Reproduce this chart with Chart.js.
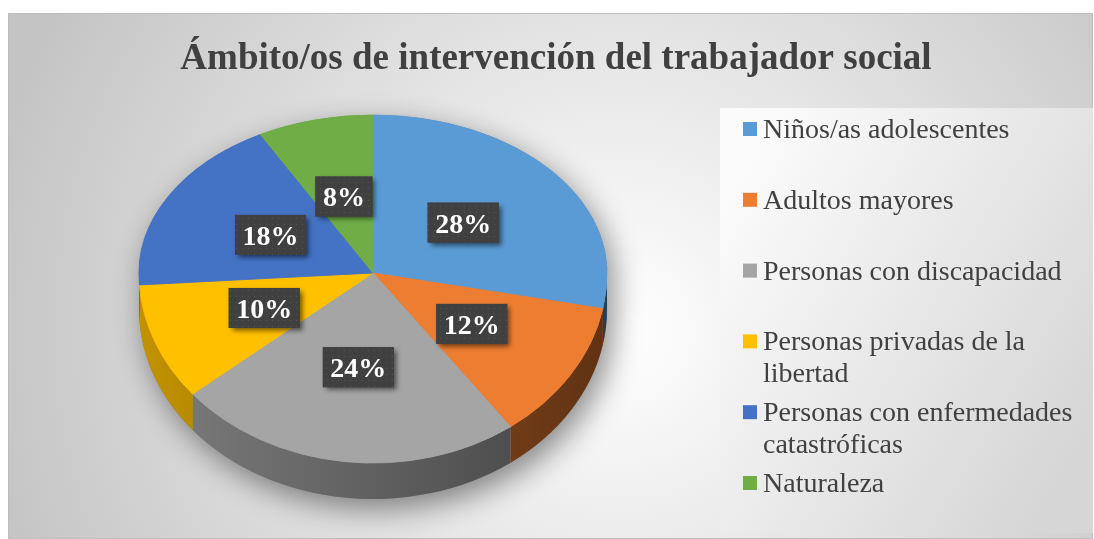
<!DOCTYPE html>
<html>
<head>
<meta charset="utf-8">
<script src="https://cdn.jsdelivr.net/npm/chart.js@4.4.0/dist/chart.umd.min.js"></script>
<style>
html, body { margin: 0; padding: 0; background: #fff; }
canvas { display: block; }
</style>
</head>
<body>
<canvas id="ambitos" width="1094" height="539"></canvas>
<script>
/*
 * Ámbitos de intervención del trabajador social (pastel 3D)
 */

const titulo = 'Ámbito/os de intervención del trabajador social'
const categorias = ['Niños/as adolescentes', 'Adultos mayores', 'Personas con discapacidad',
    'Personas privadas de la libertad', 'Personas con enfermedades catastróficas', 'Naturaleza']
const porcentajes = [28, 12, 24, 10, 18, 8]
const colores = ['#5B9BD5', '#ED7D31', '#A5A5A5', '#FFC000', '#4472C4', '#70AD47']

// geometria del pastel en perspectiva
const RADIO = 234
const RY_ARRIBA = 158
const RY_ABAJO = 190
const GROSOR = 36
const SERIF = '"Liberation Serif", "Times New Roman", serif'

let fondo = {
    id: 'fondo',
    beforeDraw(chart) {
        let ctx = chart.ctx
        ctx.save()
        ctx.fillStyle = '#fff'
        ctx.fillRect(0, 0, chart.width, chart.height)
        let g = ctx.createRadialGradient(620, 330, 0, 620, 330, 650)
        g.addColorStop(0, '#ffffff')
        g.addColorStop(1, '#c4c4c4')
        ctx.fillStyle = g
        ctx.fillRect(8, 13, 1085, 526)
        ctx.strokeStyle = '#bdbdbd'
        ctx.lineWidth = 1
        ctx.strokeRect(8.5, 13.5, 1084, 525)
        // caja de la leyenda
        let gl = ctx.createLinearGradient(720, 200, 1093, 420)
        gl.addColorStop(0, '#fbfbfb')
        gl.addColorStop(1, '#d6d6d6')
        ctx.fillStyle = gl
        ctx.fillRect(720, 108, 373, 425)
        // titulo
        ctx.fillStyle = '#404040'
        ctx.font = 'bold 37px ' + SERIF
        ctx.textAlign = 'center'
        ctx.textBaseline = 'alphabetic'
        ctx.fillText(titulo, 556, 69)
        ctx.restore()
    }
}

let pastel3d = {
    id: 'pastel3d',
    beforeDatasetsDraw(chart) {
        let ctx = chart.ctx
        let arcos = chart.getDatasetMeta(0).data
        let cx = arcos[0].x, cy = arcos[0].y, r = arcos[0].outerRadius

        // sombra del pastel
        ctx.save()
        ctx.beginPath()
        ctx.ellipse(cx, cy, r, RY_ARRIBA, 0, Math.PI, 2 * Math.PI)
        ctx.ellipse(cx, cy + GROSOR, r, RY_ABAJO, 0, 0, Math.PI)
        ctx.closePath()
        ctx.shadowColor = 'rgba(0,0,0,0.45)'
        ctx.shadowBlur = 30
        ctx.shadowOffsetX = 6
        ctx.shadowOffsetY = 10
        ctx.fillStyle = '#777'
        ctx.fill()
        ctx.restore()

        // lado del pastel
        ctx.save()
        let oscuro = ctx.createLinearGradient(cx - r, 0, cx + r, 0)
        oscuro.addColorStop(0, 'rgba(0,0,0,0.24)')
        oscuro.addColorStop(1, 'rgba(0,0,0,0.6)')
        arcos.forEach((a, i) => {
            let a0 = Math.max(a.startAngle, 0)
            let a1 = Math.min(a.endAngle, Math.PI)
            if (a1 <= a0) return
            ctx.beginPath()
            ctx.ellipse(cx, cy, r, RY_ABAJO, 0, a0, a1)
            ctx.ellipse(cx, cy + GROSOR, r, RY_ABAJO, 0, a1, a0, true)
            ctx.closePath()
            ctx.fillStyle = colores[i]
            ctx.fill()
            ctx.fillStyle = oscuro
            ctx.fill()
        })
        ctx.restore()

        // cara superior: mitad de atras y mitad de adelante
        let mitades = [[cy - r - 5, r + 5.5, RY_ARRIBA], [cy - 0.5, r + 10, RY_ABAJO]]
        mitades.forEach(([y0, h, ry]) => {
            ctx.save()
            ctx.beginPath()
            ctx.rect(0, y0, chart.width, h)
            ctx.clip()
            ctx.translate(cx, cy)
            ctx.scale(1, ry / r)
            ctx.translate(-cx, -cy)
            arcos.forEach(a => a.draw(ctx))
            ctx.restore()
        })
        return false
    }
}

let patron = null
function crearPatron(ctx) {
    let c = document.createElement('canvas')
    c.width = 6
    c.height = 6
    let p = c.getContext('2d')
    p.fillStyle = '#404040'
    p.fillRect(0, 0, 6, 6)
    p.fillStyle = '#555555'
    p.fillRect(2, 2, 1, 1)
    return ctx.createPattern(c, 'repeat')
}

let etiquetas = {
    id: 'etiquetas',
    afterDraw(chart) {
        let ctx = chart.ctx
        if (!patron) patron = crearPatron(ctx)
        let arcos = chart.getDatasetMeta(0).data
        let total = porcentajes.reduce((s, v) => s + v, 0)
        ctx.save()
        ctx.font = 'bold 28px ' + SERIF
        ctx.textAlign = 'center'
        ctx.textBaseline = 'alphabetic'
        arcos.forEach((a, i) => {
            let medio = (a.startAngle + a.endAngle) / 2
            let s = Math.sin(medio)
            let x = a.x + a.outerRadius * 0.5 * Math.cos(medio)
            let y = a.y + 0.5 * s * (s < 0 ? RY_ARRIBA : RY_ABAJO)
            let texto = Math.round(porcentajes[i] / total * 100) + '%'
            let w = ctx.measureText(texto).width + 15
            let h = 40
            ctx.shadowColor = 'rgba(0,0,0,0.55)'
            ctx.shadowBlur = 5
            ctx.shadowOffsetX = 3
            ctx.shadowOffsetY = 3
            ctx.fillStyle = '#404040'
            ctx.fillRect(x - w / 2, y - h / 2, w, h)
            ctx.shadowColor = 'transparent'
            ctx.fillStyle = patron
            ctx.fillRect(x - w / 2, y - h / 2, w, h)
            ctx.fillStyle = '#ffffff'
            ctx.fillText(texto, x, y + 10)
        })
        ctx.restore()
    }
}

function partirTexto(ctx, texto, ancho) {
    let palabras = texto.split(' ')
    let lineas = []
    let actual = ''
    palabras.forEach(p => {
        let prueba = actual ? actual + ' ' + p : p
        if (actual && ctx.measureText(prueba).width > ancho) {
            lineas.push(actual)
            actual = p
        } else {
            actual = prueba
        }
    })
    lineas.push(actual)
    return lineas
}

let leyenda = {
    id: 'leyenda',
    afterDraw(chart) {
        let ctx = chart.ctx
        ctx.save()
        ctx.font = '28px ' + SERIF
        ctx.textAlign = 'left'
        ctx.textBaseline = 'alphabetic'
        chart.data.labels.forEach((label, i) => {
            let yc = 129 + 70.8 * i
            ctx.fillStyle = chart.data.datasets[0].backgroundColor[i]
            ctx.fillRect(743, yc - 7, 14, 14)
            ctx.fillStyle = '#404040'
            partirTexto(ctx, label, 318).forEach((linea, k) => {
                ctx.fillText(linea, 763, yc + 9 + k * 32)
            })
        })
        ctx.restore()
    }
}

let ambitosConfig = {
    type: 'pie',
    data: {
        labels: categorias,
        datasets: [{
            data: porcentajes,
            backgroundColor: colores,
            borderColor: colores,
            borderWidth: 1,
            radius: RADIO
        }]
    },
    options: {
        responsive: false,
        animation: false,
        events: [],
        layout: { padding: { left: 0, right: 348, top: 7, bottom: 0 } },
        plugins: {
            legend: { display: false },
            title: { display: false },
            tooltip: { enabled: false }
        }
    },
    plugins: [fondo, pastel3d, etiquetas, leyenda]
}

var ambitosCanvas = document.getElementById('ambitos')

var ambitosChart = new Chart(ambitosCanvas, ambitosConfig)
</script>
</body>
</html>
